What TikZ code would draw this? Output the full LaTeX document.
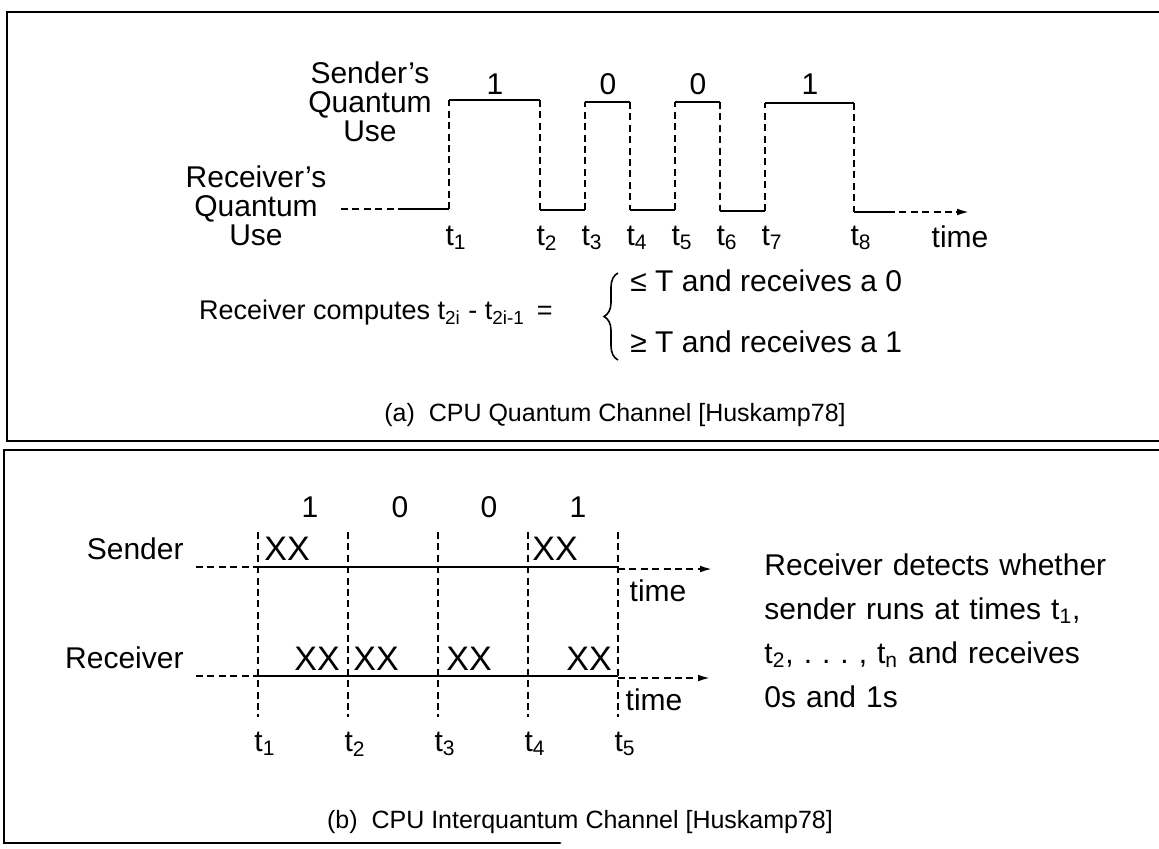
\documentclass[tikz,border=0pt]{standalone}
\usepackage{fontspec}
\setmainfont{Liberation Sans}
\usepackage{tikz}
\usetikzlibrary{arrows.meta,positioning,decorations.pathreplacing}

\begin{document}
\begin{tikzpicture}[x=0.5pt, y=-0.5pt, >={Latex[length=6pt,width=3.4pt]},
    font=\fontsize{15}{14.5}\selectfont,
    frameline/.style={line width=1.4pt, line cap=round},
    sig/.style={line width=0.9pt},
    guide/.style={line width=0.9pt, dash pattern=on 3.5pt off 2.2pt},
    lbl/.style={inner sep=0pt, align=center},
    ts/.style={inner sep=0pt},
    small/.style={inner sep=0pt, font=\fontsize{12.5}{15}\selectfont}]
  \useasboundingbox (0,0) rectangle (1159,848);
  \newcommand{\tsub}[1]{t\textsubscript{#1}}

  % frames
  \draw[frameline] (1159,12) -- (7,12) -- (7,441) -- (1159,441);
  \draw[frameline] (1159,450) -- (4,450) -- (4,843) -- (560,843);

  % (a) quantum channel
  \node[lbl] (snd) at (370,102) {Sender's\\Quantum\\Use};
  \node[lbl] (rcv) at (256,206) {Receiver's\\Quantum\\Use};

  \coordinate (r0) at (341,209);
  \coordinate (r1) at (398,209);
  \draw[guide] (r0) -- (r1);
  \draw[sig] (r1) -- (449,209);
  \draw[guide] (449,209) -- (449,100);
  \draw[sig] (449,100) -- (540,100);
  \draw[guide] (540,100) -- (540,210);
  \draw[sig] (540,210) -- (585,210);
  \draw[guide] (585,210) -- (585,102);
  \draw[sig] (585,102) -- (630,102);
  \draw[guide] (630,102) -- (630,210);
  \draw[sig] (630,210) -- (675,210);
  \draw[guide] (675,210) -- (675,102);
  \draw[sig] (675,102) -- (720,102);
  \draw[guide] (720,102) -- (720,211);
  \draw[sig] (720,211) -- (765,211);
  \draw[guide] (765,211) -- (765,103);
  \draw[sig] (765,103) -- (854,103);
  \draw[guide] (854,103) -- (854,212);
  \coordinate (q8) at (854,212);
  \coordinate (q9) at (888,212);
  \coordinate (qend) at (969,212);
  \draw[sig] (q8) -- (q9);
  \draw[guide, ->] (q9) -- (qend);
  \node[ts] (qtime) at (960,237) {time};

  \foreach \x/\b in {495/1, 608/0, 698/0, 810/1}
    \node[ts] at (\x,84) {\b};
  \foreach \x/\n in {449/1, 540/2, 585/3, 630/4, 675/5, 720/6, 765/7, 854/8}
    \node[ts] at (\x+7,238) {\tsub{\n}};

  \node[ts, anchor=east, font=\fontsize{13.5}{15}\selectfont] (cmp) at (553,313) {Receiver computes \tsub{2i} - \tsub{2i-1}\ \,=};
  \draw[sig, line width=0.8pt, decorate, decoration={brace, amplitude=7pt}] (618,360) -- (618,273);
  \node[ts, anchor=west] (le) at (630,281) {≤ T and receives a 0};
  \node[ts, anchor=west] (ge) at (630,342) {≥ T and receives a 1};
  \node[small] (capa) at (615,415) {(a)\ \ CPU Quantum Channel [Huskamp78]};

  % (b) interquantum channel
  \node[ts, anchor=east] (sname) at (184,549) {Sender};
  \node[ts, anchor=east] (rname) at (184,658) {Receiver};

  \foreach \x in {258, 348, 438, 528, 618}
    \draw[guide] (\x,532) -- (\x,717);

  \draw[guide] (196,567) -- (258,567);
  \draw[sig] (258,567) -- (618,567);
  \draw[guide, ->] (618,569) -- (712,569);
  \draw[guide] (196,676) -- (258,676);
  \draw[sig] (258,676) -- (618,676);
  \draw[guide, ->] (618,678) -- (710,678);
  \node[ts] (stime) at (658,591) {time};
  \node[ts] (rtime) at (654,700) {time};

  \foreach \x/\b in {310/1, 400/0, 489/0, 578/1}
    \node[ts] at (\x,507) {\b};
  \foreach \x in {287, 555}
    \node[ts, font=\fontsize{17}{17}\selectfont] at (\x,549) {XX};
  \foreach \x in {317, 376, 469, 589}
    \node[ts, font=\fontsize{17}{17}\selectfont] at (\x,659) {XX};
  \foreach \x/\n in {258/1, 348/2, 438/3, 528/4, 618/5}
    \node[ts] at (\x+7,744) {\tsub{\n}};

  \node[ts, anchor=base west, align=left, text width=400pt, font=\fontsize{15}{22}\selectfont] (note) at (764,575)
    {Receiver detects whether\\sender runs at times \tsub{1},\\\tsub{2}, .\ .\ .\ , \tsub{n} and receives\\0s and 1s};
  \node[small] (capb) at (580,822) {(b)\ \ CPU Interquantum Channel [Huskamp78]};
\end{tikzpicture}
\end{document}
